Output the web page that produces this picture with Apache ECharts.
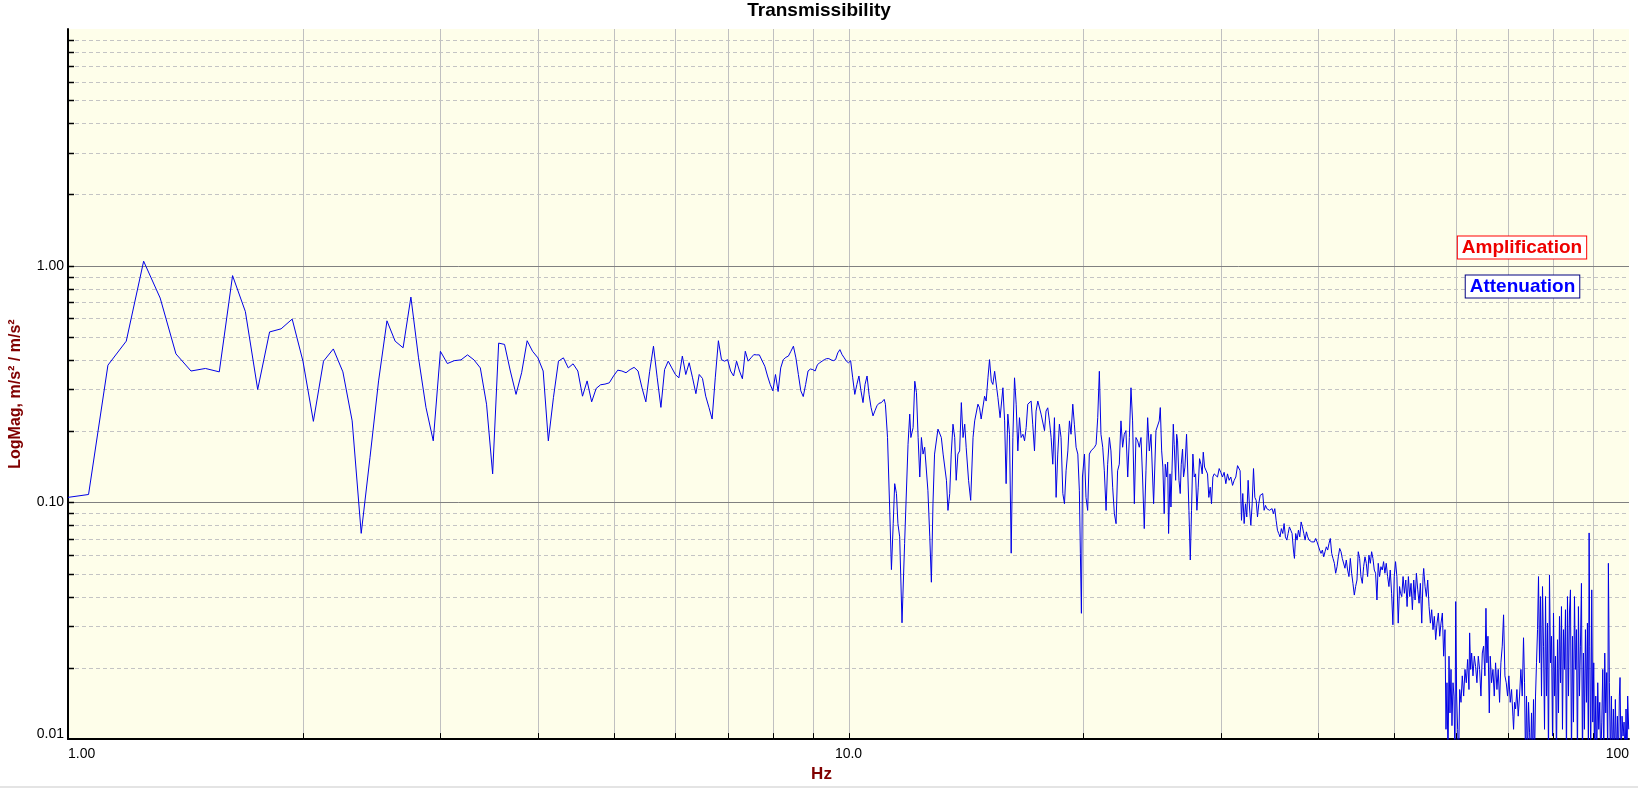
<!DOCTYPE html>
<html>
<head>
<meta charset="utf-8">
<script src="https://cdn.jsdelivr.net/npm/echarts@6/dist/echarts.min.js"></script>
<style>
html,body{margin:0;padding:0;background:#ffffff;}
#chart{width:1638px;height:788px;}
</style>
</head>
<body>
<div id="chart"></div>
<script>
// ---- Data ----
// Low band: FFT bins of 0.0625 Hz starting at 1.0 Hz
const lowStartHz = 1.0;
const lowStepHz = 0.0625;
const magLow = [
0.105,0.108,0.38,0.48,1.045,0.73,0.424,0.359,0.368,0.356,0.908,0.64,0.30,0.525,0.541,0.595,
0.395,0.220,0.395,0.445,0.356,0.221,0.074,0.155,0.326,0.585,0.48,0.45,0.737,0.408,0.252,0.182,
0.435,0.386,0.397,0.40,0.42,0.40,0.37,0.26,0.132,0.471,0.465,0.359,0.286,0.353,0.482,0.435,
0.408,0.359,0.182,0.277,0.395,0.408,0.37,0.385,0.359,0.281,0.326,0.266,0.303,0.314,0.316,0.32,
0.342,0.362,0.359,0.353,0.364,0.372,0.359,0.305,0.266,0.358,0.457,0.336,0.252,0.364,0.395,0.370,
0.347,0.336,0.415,0.347,0.389,0.336,0.288,0.347,0.334,0.281,0.252,0.225,0.336,0.482,0.401,0.395,
0.401,0.359,0.342,0.395,0.359,0.333,0.435,0.395,0.408,0.421,0.42,0.42,0.397,0.376,0.342,0.315,
0.296,0.347,0.294,0.370,0.401,0.41,0.415,0.435,0.457,0.408,0.347,0.296,0.28,0.315,0.359,0.366,
0.364,0.359,0.382,0.389,0.395,0.401,0.405,0.405,0.40,0.397,0.401,0.428,0.442,0.421,0.408,0.395,
0.389,0.397,0.336,0.286,0.315,0.342,0.296,0.264,0.315,0.342,0.286,0.252,0.232,0.244,0.256,0.262
];

// Mid band (11 - 24.3 Hz)
const hzMid = [
11.02,11.11,11.15,11.22,11.29,11.35,11.41,11.46,11.52,11.57,
11.63,11.71,11.80,11.92,11.98,12.02,12.10,12.16,12.22,12.28,
12.34,12.40,12.46,12.52,12.64,12.71,12.77,12.83,12.89,13.02,
13.09,13.15,13.22,13.35,13.41,13.48,13.54,13.61,13.68,13.74,
13.81,13.88,13.95,14.02,14.09,14.15,14.25,14.34,14.44,14.51,
14.65,14.72,14.79,14.94,15.01,15.09,15.16,15.24,15.31,15.39,
15.46,15.54,15.64,15.77,15.85,15.92,16.00,16.08,16.16,16.24,
16.32,16.40,16.48,16.56,16.64,16.73,16.81,16.89,16.97,17.14,
17.22,17.31,17.39,17.48,17.65,17.83,17.91,18.00,18.09,18.18,
18.27,18.36,18.45,18.54,18.63,18.72,18.82,18.91,19.00,19.10,
19.19,19.28,19.38,19.47,19.57,19.67,19.76,19.82,19.88,19.94,
20.06,20.15,20.25,20.35,20.45,20.66,20.76,20.86,20.96,21.06,
21.17,21.27,21.38,21.48,21.59,21.69,21.80,21.91,22.02,22.12,
22.23,22.34,22.45,22.56,22.67,22.79,22.90,23.01,23.12,23.24,
23.35,23.47,23.58,23.70,23.81,23.93,24.05,24.17,24.29
];
const magMid = [
0.264,0.2725,0.260,0.188,0.0956,0.052,0.0813,0.120,0.109,0.0813,
0.0715,0.031,0.067,0.176,0.236,0.188,0.207,0.325,0.291,0.188,
0.128,0.188,0.160,0.171,0.112,0.0715,0.046,0.0987,0.160,0.204,
0.207,0.188,0.160,0.124,0.0925,0.109,0.160,0.214,0.188,0.124,
0.160,0.165,0.264,0.188,0.214,0.171,0.124,0.102,0.188,0.221,
0.260,0.251,0.225,0.281,0.268,0.336,0.401,0.325,0.315,0.358,
0.353,0.277,0.228,0.305,0.221,0.120,0.236,0.194,0.061,0.188,
0.336,0.260,0.165,0.228,0.188,0.194,0.182,0.207,0.260,0.268,
0.214,0.165,0.243,0.268,0.236,0.201,0.243,0.251,0.221,0.188,
0.145,0.228,0.105,0.160,0.214,0.188,0.109,0.0987,0.136,0.165,
0.221,0.194,0.260,0.214,0.171,0.160,0.112,0.061,0.034,0.128,
0.160,0.105,0.0925,0.160,0.165,0.171,0.176,0.228,0.358,0.194,
0.171,0.136,0.0925,0.145,0.188,0.165,0.116,0.0896,0.0813,0.136,
0.145,0.221,0.171,0.194,0.201,0.128,0.188,0.305,0.221,0.0987,
0.188,0.182,0.171,0.188,0.128,0.0775,0.136,0.228,0.165
];

// Upper band (24.4 - 51 Hz)
const hzHigh = [
24.41,24.60,24.77,24.89,25.01,25.09,25.19,25.28,25.38,25.46,25.56,25.64,25.71,25.82,25.89,25.97,26.07,26.14,
26.25,26.33,26.40,26.51,26.61,26.69,26.79,26.87,26.98,27.11,27.22,27.30,27.41,
27.51,27.62,27.73,27.84,27.95,28.06,28.17,28.28,28.39,28.48,28.59,28.70,
28.84,28.95,29.07,29.18,29.30,29.41,29.56,29.70,29.85,29.99,30.14,
30.29,30.44,30.59,30.74,30.89,31.05,31.20,31.35,31.51,31.66,31.75,
31.88,32.00,32.13,32.26,32.38,32.51,32.64,32.77,32.90,33.03,33.16,33.29,
33.42,33.55,33.68,33.81,33.94,34.08,34.22,34.35,34.48,34.62,34.76,34.89,35.03,
35.17,35.31,35.45,35.58,35.72,35.86,36.01,36.15,36.29,36.44,36.58,36.72,
36.87,37.01,37.16,37.27,37.41,37.56,37.71,37.86,38.01,38.16,38.31,38.46,38.61,
38.76,38.91,39.06,39.22,39.37,39.52,39.68,39.84,39.99,40.15,40.31,40.47,40.63,
40.79,40.95,41.11,41.27,41.43,41.60,41.76,41.93,42.09,42.26,42.42,42.59,
42.76,42.92,43.09,43.26,43.43,43.60,43.77,43.95,44.12,44.29,44.47,44.64,44.82,
44.99,45.17,45.35,45.53,45.71,45.89,46.07,46.25,46.43,46.62,46.80,46.98,
47.17,47.35,47.54,47.72,47.91,48.10,48.29,48.48,48.67,48.86,49.06,49.25,49.44,
49.64,49.83,50.03,50.22,50.42,50.62,50.82,50.97
];
const magHigh = [
0.194,0.0987,0.201,0.204,0.221,0.2515,0.165,0.141,0.0896,0.145,0.128,0.148,0.0739,0.132,0.0956,0.136,0.214,0.176,
0.124,0.194,0.182,0.124,0.109,0.145,0.168,0.128,0.141,0.194,0.128,0.0926,0.0571,
0.0926,0.160,0.128,0.132,0.0926,0.116,0.153,0.145,0.132,0.163,0.141,0.141,
0.132,0.105,0.116,0.0987,0.128,0.132,0.134,0.128,0.139,0.134,0.128,
0.134,0.120,0.132,0.124,0.128,0.118,0.124,0.128,0.143,0.145,0.136,
0.084,0.109,0.0814,0.0987,0.0868,0.124,0.0956,0.080,0.0987,0.139,0.105,0.102,
0.0868,0.0987,0.107,0.109,0.109,0.0926,0.0971,0.0941,0.0956,0.0926,0.0911,0.0941,0.0896,
0.0941,0.084,0.0763,0.0739,0.0715,0.0775,0.0739,0.0814,0.0715,0.0693,0.0739,0.0788,
0.0763,0.0739,0.0629,0.058,0.0739,0.0693,0.0763,0.0715,0.0827,0.0788,0.0739,0.0693,0.0751,
0.0715,0.0693,0.0693,0.0681,0.0693,0.0681,0.0704,0.0681,0.0671,0.0629,0.0609,0.0629,0.0589,
0.0619,0.0649,0.0629,0.0671,0.0704,0.0609,0.058,0.0553,0.0502,0.0535,0.0589,0.0639,
0.0619,0.058,0.0589,0.0527,0.0571,0.0518,0.0486,0.058,0.0502,0.0455,0.0406,0.0441,0.047,
0.0619,0.058,0.0486,0.0455,0.0535,0.0589,0.0553,0.0486,0.0599,0.0553,0.0619,0.058,
0.0518,0.0502,0.0387,0.0553,0.0486,0.0535,0.0518,0.0562,0.0502,0.0553,0.0486,0.0441,0.0518,
0.0413,0.0304,0.0486,0.0562,0.0486,0.0309,0.0441,0.0413
];

// Top band (51 - 100 Hz)
const hzTop = [
51.15,51.35,51.55,51.76,51.96,52.16,52.37,52.57,52.78,52.99,53.20,53.41,53.62,53.83,54.04,54.26,54.47,
54.57,54.79,55.00,55.22,55.44,55.66,55.87,56.09,56.31,56.54,56.76,56.98,57.21,57.43,57.66,57.88,58.11,
58.28,58.45,58.63,58.80,58.97,59.15,59.32,59.50,59.67,59.85,
59.97,60.14,60.32,60.50,60.68,
60.92,61.15,61.40,61.64,61.88,62.12,62.37,
62.49,62.68,62.86,63.11,
63.36,63.60,63.85,64.11,64.36,64.61,64.87,65.12,65.37,
65.57,65.76,65.96,66.22,66.41,
66.67,66.94,67.20,67.46,67.73,67.99,68.26,68.53,68.80,69.07,69.35,69.62,69.89,70.16,70.44,70.72,71.00,
71.14,71.35,71.56,
71.84,72.12,72.40,72.69,72.98,73.26,
73.48,73.69,73.91,74.13,74.35,74.57,74.79,75.01,75.23,75.45,75.67,75.90,76.12,76.35,76.57,76.80,
77.02,77.25,77.48,77.71,77.94,78.17,78.40,78.63,78.86,79.09,79.33,79.56,79.80,80.03,80.27,80.50,80.74,
80.98,81.22,81.46,81.70,81.94,82.18,82.42,82.66,82.91,83.15,83.40,83.65,83.89,84.14,84.39,84.64,
84.89,85.14,85.39,85.64,85.89,86.14,86.40,86.65,86.91,87.17,87.42,87.68,87.94,88.20,88.46,88.72,
88.90,89.07,
89.33,89.59,89.86,90.12,90.39,90.66,90.92,91.19,91.46,91.73,92.00,92.28,92.55,92.82,93.10,93.37,93.64,93.92,
94.10,94.38,94.66,94.94,95.22,95.50,95.78,96.06,96.35,96.63,96.92,97.20,
97.39,97.68,97.97,98.26,98.55,98.84,99.13,99.42,
99.61,99.91
];
const magTop = [
0.040,0.0486,0.0413,0.047,0.0363,0.0486,0.040,0.0455,0.0352,0.047,0.0387,0.0502,0.0427,0.0375,0.0455,0.0309,0.0486,
0.0526,0.0441,0.040,0.047,0.0363,0.0309,0.0352,0.029,0.033,0.0263,0.0309,0.0341,0.0272,0.0309,0.0341,0.0224,0.029,
0.011,0.0173,0.008,0.0224,0.0129,0.0197,0.0114,0.0173,0.0152,0.008,
0.0381,0.0152,0.011,0.008,0.0162,
0.0143,0.0185,0.0152,0.0197,0.0173,0.0217,0.0162,
0.0281,0.0197,0.0231,0.0185,
0.0224,0.0203,0.0173,0.0224,0.0197,0.0152,0.0231,0.0247,0.0185,
0.0357,0.021,0.0272,0.0129,0.0224,
0.0173,0.0197,0.0152,0.021,0.0162,0.0197,0.0143,0.021,0.0247,0.0335,0.0185,0.0173,0.0152,0.0185,0.0143,0.0162,0.0125,
0.011,0.0143,0.0134,
0.0162,0.0125,0.0152,0.0197,0.0152,0.0268,
0.0173,0.008,0.0152,0.008,0.0143,0.0107,0.008,0.0129,0.008,0.0147,0.008,0.0152,0.021,0.029,0.0486,0.021,
0.040,0.0152,0.0441,0.0247,0.011,0.040,0.0152,0.0309,0.008,0.0494,0.021,0.0272,0.0103,0.0341,0.0152,0.0224,0.008,
0.0263,0.0129,0.033,0.0173,0.0363,0.011,0.029,0.0197,0.0352,0.008,0.040,0.0152,0.0341,0.0427,0.008,0.0272,
0.0118,0.040,0.0197,0.029,0.008,0.0363,0.0152,0.0247,0.0455,0.008,0.0231,0.011,0.029,0.0143,0.0309,0.008,
0.0743,0.0247,
0.008,0.0427,0.0118,0.021,0.008,0.0152,0.008,0.0173,0.011,0.0143,0.008,0.0118,0.0197,0.008,0.0231,0.0129,0.0191,0.008,
0.0553,0.0173,0.008,0.0152,0.008,0.0134,0.008,0.0147,0.008,0.0125,0.008,0.0152,
0.0182,0.008,0.0125,0.0103,0.0118,0.008,0.0134,0.008,
0.0152,0.011
];

// Axis / grid values
const xGridHz = [2,3,4,5,6,7,8,9,10,20,30,40,50,60,70,80,90];
const yMinorGrid = [0.02,0.03,0.04,0.05,0.06,0.07,0.08,0.09,0.2,0.3,0.4,0.5,0.6,0.7,0.8,0.9,2,3,4,5,6,7,8,9];
const yMajorGrid = [0.1,1];

const titleText = 'Transmissibility';
const xName = 'Hz';
const yName = 'LogMag, m/s\u00b2 / m/s\u00b2';
const legendAmp = 'Amplification';
const legendAtt = 'Attenuation';

// ---- Build series data ----
const lineData = [];
magLow.forEach(function (m, i) { lineData.push([lowStartHz + i * lowStepHz, m]); });
function addPairs(hz, mag) {
  const n = Math.min(hz.length, mag.length);
  for (let i = 0; i < n; i++) lineData.push([hz[i], mag[i]]);
}
addPairs(hzMid, magMid);
addPairs(hzHigh, magHigh);
addPairs(hzTop, magTop);

const FONT = "'Liberation Sans', Arial, sans-serif";
const chart = echarts.init(document.getElementById('chart'), null, {renderer: 'canvas'});

function vGrid(params, api) {
  const cs = params.coordSys;
  const x = Math.round(api.coord([api.value(0), 1])[0]) + 0.5;
  const yb = cs.y + cs.height;
  return {
    type: 'group',
    children: [
      {type: 'line', shape: {x1: x, y1: cs.y, x2: x, y2: yb}, style: {stroke: '#c0c0c0', lineWidth: 1}},
      {type: 'line', shape: {x1: x, y1: yb, x2: x, y2: yb - 6}, style: {stroke: '#000000', lineWidth: 1}}
    ]
  };
}
function hGrid(params, api) {
  const cs = params.coordSys;
  const y = Math.round(api.coord([1, api.value(1)])[1]) + 0.5;
  const major = api.value(2) === 1;
  return {
    type: 'group',
    children: [
      {type: 'line', shape: {x1: cs.x, y1: y, x2: cs.x + cs.width, y2: y},
        style: major ? {stroke: '#808080', lineWidth: 1} : {stroke: '#c4c4c4', lineWidth: 1, lineDash: [4, 3]}},
      {type: 'line', shape: {x1: cs.x, y1: y, x2: cs.x + 6, y2: y}, style: {stroke: '#000000', lineWidth: 1.5}}
    ]
  };
}

const option = {
  animation: false,
  backgroundColor: '#ffffff',
  title: {
    text: titleText, left: 'center', top: 1, padding: 0,
    textStyle: {fontFamily: FONT, fontSize: 19, fontWeight: 'bold', color: '#000000'}
  },
  grid: {
    left: 65, right: 9, top: 29, bottom: 45,
    show: true, backgroundColor: '#fefeea', borderWidth: 0
  },
  xAxis: {
    type: 'log', logBase: 10, min: 1, max: 100,
    axisLine: {show: true, onZero: false, lineStyle: {color: '#000000', width: 2}},
    axisTick: {show: false},
    splitLine: {show: false},
    axisLabel: {
      color: '#000000', fontFamily: FONT, fontSize: 14, margin: 8,
      alignMinLabel: 'left', alignMaxLabel: 'right',
      formatter: function (v) { return Number(v).toPrecision(3); }
    },
    name: xName, nameLocation: 'middle', nameGap: 21,
    nameTextStyle: {color: '#800000', fontFamily: FONT, fontSize: 17, fontWeight: 'bold', padding: [0, 54, 0, 0]}
  },
  yAxis: {
    type: 'log', logBase: 10, min: 0.01, max: 10,
    axisLine: {show: true, onZero: false, lineStyle: {color: '#000000', width: 2}},
    axisTick: {show: false},
    splitLine: {show: false},
    axisLabel: {
      color: '#000000', fontFamily: FONT, fontSize: 14, margin: 4, lineHeight: 9,
      showMaxLabel: false, verticalAlignMinLabel: 'bottom',
      formatter: function (v) { return Number(v).toFixed(2); }
    },
    name: yName, nameLocation: 'middle', nameGap: 44, nameRotate: 90,
    nameTextStyle: {color: '#800000', fontFamily: FONT, fontSize: 16, fontWeight: 'bold', padding: [0, 20, 0, 0]}
  },
  graphic: [
    {type: 'rect', shape: {x: 0, y: 786, width: 1638, height: 2}, style: {fill: '#e4e4e4'}, silent: true},
    {type: 'text', z: 100, style: {
      text: legendAmp, x: 1522, y: 247.5, align: 'center', verticalAlign: 'middle',
      fill: '#ee0000', font: 'bold 19px ' + FONT, backgroundColor: '#ffffff',
      borderColor: '#ff0000', borderWidth: 1, padding: [1, 4, 0, 4], lineHeight: 21
    }},
    {type: 'text', z: 100, style: {
      text: legendAtt, x: 1522.5, y: 286.5, align: 'center', verticalAlign: 'middle',
      fill: '#0000ff', font: 'bold 19px ' + FONT, backgroundColor: '#ffffff',
      borderColor: '#000080', borderWidth: 1, padding: [1, 4, 0, 4], lineHeight: 21
    }}
  ],
  series: [
    {
      type: 'custom', z: 1, silent: true, renderItem: vGrid,
      encode: {x: 0, y: 1},
      data: xGridHz.map(function (v) { return [v, 1]; })
    },
    {
      type: 'custom', z: 1, silent: true, renderItem: hGrid,
      encode: {x: 0, y: 1},
      data: yMinorGrid.map(function (v) { return [1, v, 0]; }).concat(yMajorGrid.map(function (v) { return [1, v, 1]; }))
    },
    {
      type: 'line', z: 3, data: lineData, showSymbol: false, symbol: 'none',
      lineStyle: {color: '#0000e6', width: 1}, clip: true, silent: true
    }
  ]
};
chart.setOption(option);
</script>
</body>
</html>
